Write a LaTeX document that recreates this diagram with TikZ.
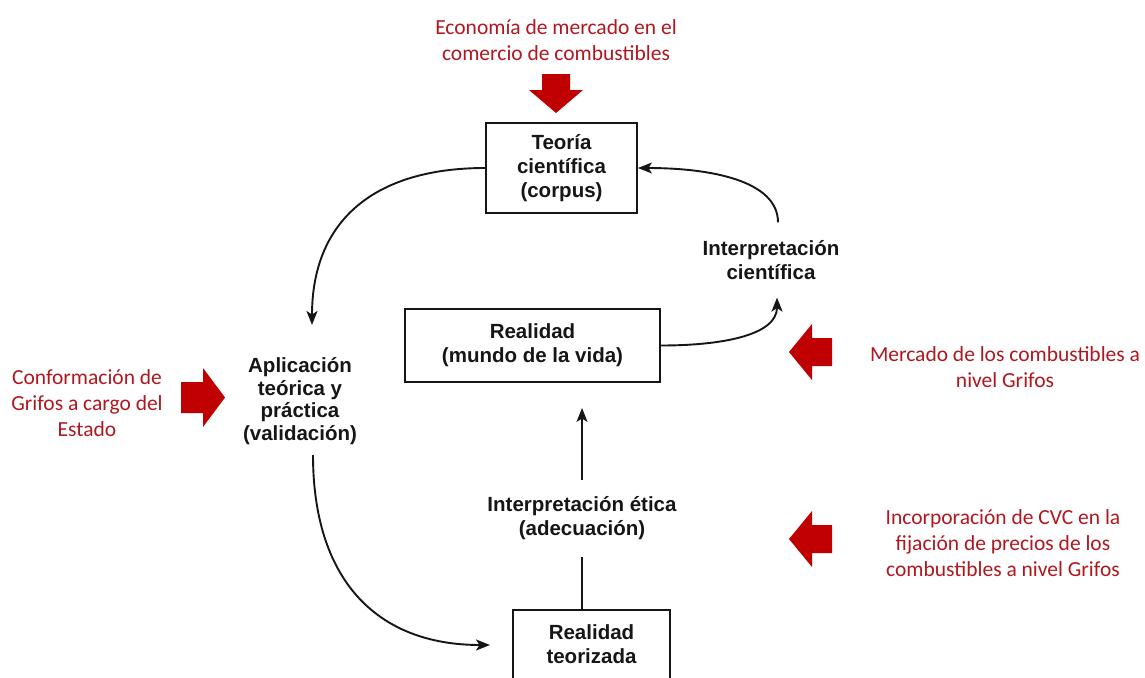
\documentclass[tikz,border=0pt]{standalone}
\usepackage{fontspec}
\setmainfont{Liberation Sans}
\newfontfamily\redfont{Carlito}
\usetikzlibrary{arrows.meta}
\definecolor{arrowred}{HTML}{C00000}
\definecolor{textred}{HTML}{B01820}
\definecolor{ink}{HTML}{161616}
\begin{document}
\begin{tikzpicture}[x=1pt,y=-1pt,
  box/.style={draw=ink,line width=1.9pt,align=center,text=ink,font=\fontsize{20.5}{24}\selectfont\bfseries,inner sep=0pt},
  lbl/.style={align=center,text=ink,font=\fontsize{20.5}{24}\selectfont\bfseries,inner xsep=0pt},
  note/.style={align=center,text=textred,font=\redfont\fontsize{21.5}{26}\selectfont,inner sep=0pt},
  conn/.style={draw=ink,line width=1.9pt,-{Stealth[length=14pt,width=11pt,inset=3.5pt]}},
  plain/.style={draw=ink,line width=1.9pt},
  fat/.style={fill=arrowred}]
\useasboundingbox (0,0) rectangle (1145,677);
\clip (0,0) rectangle (1145,677);
\fill[white] (0,0) rectangle (1145,677);

% boxes
\node[box,minimum width=151pt,minimum height=90pt] (teoria) at (561.5,168) {Teoría\\científica\\(corpus)};
\node[box,minimum width=255pt,minimum height=73pt] (realidad) at (532.5,345.5) {Realidad\\(mundo de la vida)};
\node[box,minimum width=157pt,anchor=north,inner ysep=15pt,text depth=50pt] (teorizada) at (591.5,609) {Realidad\\teorizada};

% labels
\node[lbl,inner ysep=17.75pt] (intcien) at (771,260) {Interpretación\\científica};
\node[lbl,font=\fontsize{20.5}{22.5}\selectfont\bfseries,inner ysep=0pt] (aplic) at (300,401) {Aplicación\\teórica y\\práctica\\(validación)};
\node[lbl,inner ysep=17pt] (intetica) at (582,518.5) {Interpretación ética\\(adecuación)};

% red notes
\node[note] (topnote) at (556,40.5) {Economía de mercado en el\\comercio de combustibles};
\node[note] (leftnote) at (87,403) {Conformación de\\Grifos a cargo del\\Estado};
\node[note] (rightnote1) at (1005,367) {Mercado de los combustibles a\\nivel Grifos};
\node[note] (rightnote2) at (1003,543) {Incorporación de CVC en la\\fijación de precios de los\\combustibles a nivel Grifos};

% red block arrows
\fill[fat] (542,74) -- (570,74) -- (570,90) -- (583,90) -- (556,113) -- (529,90) -- (542,90) -- cycle;
\fill[fat] (181,382) -- (203,382) -- (203,368) -- (225,397.5) -- (203,427) -- (203,413) -- (181,413) -- cycle;
\fill[fat] (832,338) -- (812,338) -- (812,324) -- (789,352) -- (812,380) -- (812,366) -- (832,366) -- cycle;
\fill[fat] (832,525) -- (812,525) -- (812,511) -- (789,539) -- (812,567) -- (812,553) -- (832,553) -- cycle;

% connector ends
\coordinate (aplicIn) at (312,325);
\coordinate (aplicOut) at (313,455);
\coordinate (teorIn) at (490,645);

% connectors
\draw[conn] (teoria.west) .. controls +(-110,0) and +(0,-105) .. (aplicIn);
\draw[conn] ([xshift=7pt]intcien.north) .. controls +(0,-42) and +(72,0) .. (teoria.east);
\draw[conn] (realidad.east) .. controls +(60,0) and +(0,38) .. ([xshift=6pt]intcien.south);
\draw[conn] (aplicOut) .. controls +(0,123) and +(-115,0) .. (teorIn);
\draw[plain] (intetica.south) -- (intetica.south |- teorizada.north);
\draw[conn,shorten >=25pt] (intetica.north) -- (intetica.north |- realidad.south);
\end{tikzpicture}
\end{document}
